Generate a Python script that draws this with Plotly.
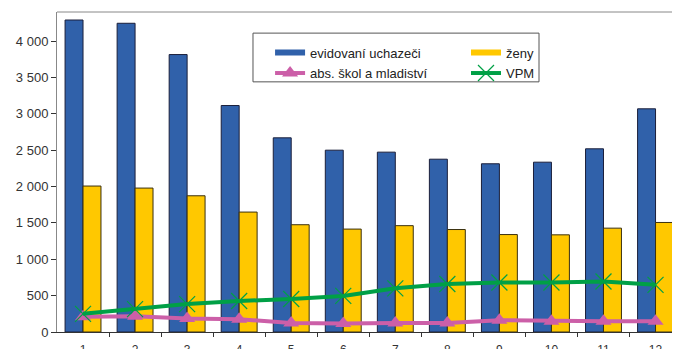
import plotly.graph_objects as go

months = [1, 2, 3, 4, 5, 6, 7, 8, 9, 10, 11, 12]
evidovani = [4290, 4245, 3815, 3114, 2670, 2500, 2473, 2376, 2313, 2335, 2519, 3069]
zeny = [2007, 1979, 1873, 1649, 1475, 1415, 1462, 1409, 1340, 1336, 1428, 1506]
absolventi = [208, 218, 186, 176, 125, 117, 125, 125, 162, 149, 149, 149]
vpm = [250, 315, 384, 426, 454, 496, 600, 660, 681, 681, 694, 649]
y_ticks = [0, 500, 1000, 1500, 2000, 2500, 3000, 3500, 4000]
y_ticktext = ["0", "500", "1 000", "1 500", "2 000", "2 500", "3 000", "3 500", "4 000"]
month_labels = [str(m) for m in months]
boundaries = [m + 0.5 for m in months[:-1]]

FONT = "Liberation Sans, Arial, sans-serif"
BLUE = "#3061AA"
YELLOW = "#FFC800"
PINK = "#CC5FA8"
GREEN = "#00A046"

fig = go.Figure()
fig.add_trace(go.Bar(x=months, y=evidovani, name="evidovaní uchazeči", showlegend=False,
                     marker=dict(color=BLUE, line=dict(color="#1B1F3A", width=1))))
fig.add_trace(go.Bar(x=months, y=zeny, name="ženy", showlegend=False,
                     marker=dict(color=YELLOW, line=dict(color="#3A3010", width=1))))
fig.add_trace(go.Scatter(x=months, y=absolventi, name="abs. škol a mladiství", mode="lines+markers",
                         legend="legend2",
                         line=dict(color=PINK, width=4),
                         marker=dict(symbol="triangle-up", size=14, color=PINK)))
fig.add_trace(go.Scatter(x=months, y=vpm, name="VPM", mode="lines+markers", legend="legend4",
                         line=dict(color=GREEN, width=4),
                         marker=dict(symbol="x-thin", size=16, color=GREEN,
                                     line=dict(color=GREEN, width=1.2))))
# legend swatches for the bar series (wide rectangles as in the original)
fig.add_trace(go.Scatter(x=[None], y=[None], name="evidovaní uchazeči", mode="lines",
                         legend="legend", line=dict(color=BLUE, width=6)))
fig.add_trace(go.Scatter(x=[None], y=[None], name="ženy", mode="lines",
                         legend="legend3", line=dict(color=YELLOW, width=6)))
# invisible trace for boundary ticks axis
fig.add_trace(go.Scatter(x=boundaries, y=[0]*len(boundaries), xaxis="x2", mode="none",
                         showlegend=False, hoverinfo="skip"))

XR = [0.5, 12.47]
LEG_FONT = dict(family=FONT, size=13, color="#222222")
COL1, COL2 = 0.342, 0.6565
ROW1, ROW2 = 0.92, 0.856


def leg(x, y):
    return dict(orientation="h", x=x, y=y, xanchor="left", yanchor="top",
                bgcolor="rgba(0,0,0,0)", borderwidth=0, font=LEG_FONT)


fig.update_layout(
    template="none",
    width=672, height=341,
    margin=dict(l=49, r=0, t=4, b=17.3, autoexpand=False),
    paper_bgcolor="white", plot_bgcolor="white",
    font=dict(family=FONT, size=12, color="#333333"),
    barmode="group", bargap=0.31, bargroupgap=0,
    showlegend=True,
    legend=leg(COL1, ROW1),
    legend2=leg(COL1, ROW2),
    legend3=leg(COL2, ROW1),
    legend4=leg(COL2, ROW2),
    xaxis=dict(range=XR, tickmode="array", tickvals=months, ticktext=month_labels,
               showgrid=False, zeroline=False, showline=True, linecolor="#333333", linewidth=1,
               ticks="outside", ticklen=7, tickcolor="rgba(0,0,0,0)", automargin=False,
               tickfont=dict(family=FONT, size=12, color="#333333")),
    xaxis2=dict(range=XR, overlaying="x", anchor="y", side="bottom", tickmode="array",
                tickvals=boundaries, showticklabels=False, showgrid=False, zeroline=False,
                ticks="outside", ticklen=4, tickcolor="#333333", showline=False, automargin=False),
    yaxis=dict(range=[0, 4400], tickmode="array", tickvals=y_ticks, ticktext=y_ticktext,
               showgrid=False, zeroline=False, showline=True, linecolor="#888888", linewidth=1,
               ticks="outside", ticklen=5, tickcolor="#333333", automargin=False,
               tickfont=dict(family=FONT, size=13, color="#333333")),
    shapes=[
        dict(type="line", xref="paper", yref="paper", x0=0, x1=1, y0=1, y1=1,
             line=dict(color="#888888", width=1)),
        dict(type="rect", xref="paper", yref="paper", x0=0.3146, x1=0.7737, y0=0.7817, y1=0.934,
             line=dict(color="#555555", width=1), fillcolor="white", layer="below"),
    ],
)

fig.write_html("out.html")
